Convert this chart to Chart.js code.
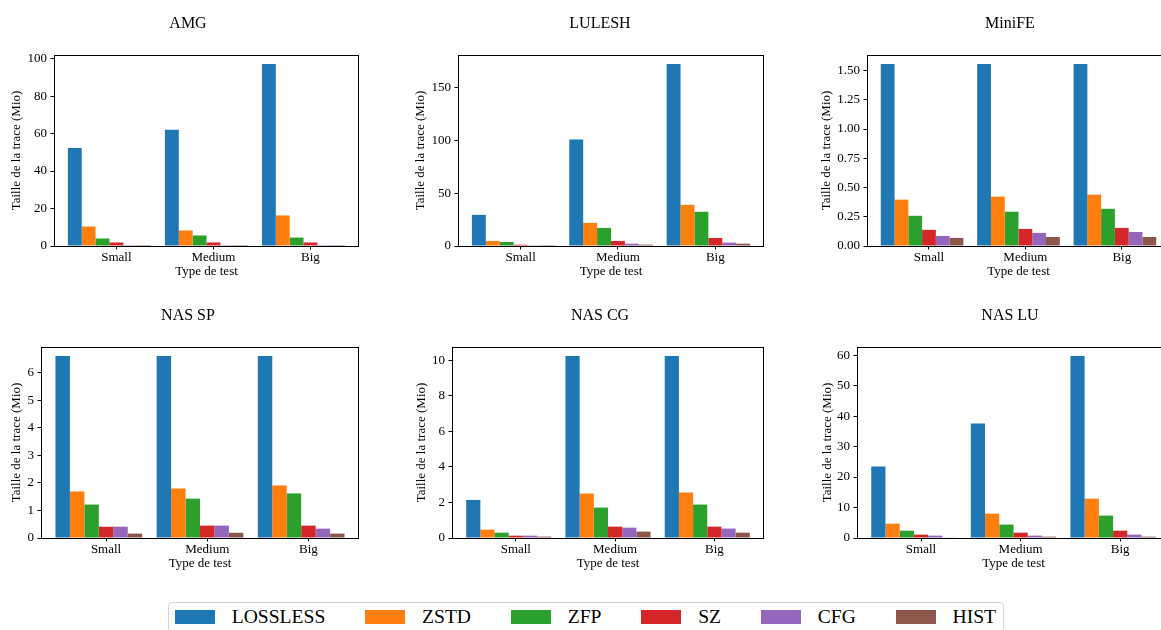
<!DOCTYPE html>
<html>
<head>
<meta charset="utf-8">
<script src="https://cdn.jsdelivr.net/npm/chart.js@4.4.1/dist/chart.umd.min.js"></script>
<style>
  html, body { margin: 0; padding: 0; background: #fff; }
  body { width: 1161px; height: 630px; overflow: hidden; position: relative; font-family: 'Liberation Serif', 'DejaVu Serif', serif; }
  canvas { position: absolute; }
  #legende { position: absolute; left: 168px; top: 602px; height: 28px; padding: 0 7px 8px 6px;
    border: 1px solid #d4d4d4; border-radius: 4px; display: flex; align-items: center;
    font-size: 19.6px; color: #000; background: #fff; white-space: nowrap; }
  .item { display: flex; align-items: center; margin-right: 40px; }
  .item:last-child { margin-right: 0; }
  .patch { width: 40px; height: 14px; margin-right: 16.7px; }
</style>
</head>
<body>
<div id="legende"></div>
<script>
// Catégories et méthodes
const categories = ['Small', 'Medium', 'Big'];
const methodes = ['LOSSLESS', 'ZSTD', 'ZFP', 'SZ', 'CFG', 'HIST'];
const couleurs = ['#1f77b4', '#ff7f0e', '#2ca02c', '#d62728', '#9467bd', '#8c564b'];

// Taille de la trace (Mio) : une ligne par méthode, une valeur par type de test
const amg = [
    [52.3, 62.0, 97.1],
    [10.4, 8.3, 16.3],
    [4.0, 5.6, 4.5],
    [1.9, 1.9, 1.9],
    [0.5, 0.5, 0.5],
    [0.5, 0.5, 0.5]
];
const lulesh = [
    [29.5, 100.9, 172.2],
    [4.8, 21.9, 39.0],
    [3.8, 17.1, 32.4],
    [1.2, 4.8, 7.6],
    [0.2, 2.2, 3.2],
    [0.1, 1.3, 2.2]
];
const minife = [
    [1.555, 1.555, 1.555],
    [0.396, 0.422, 0.439],
    [0.258, 0.293, 0.318],
    [0.138, 0.146, 0.155],
    [0.086, 0.112, 0.120],
    [0.069, 0.077, 0.077]
];
const nasSp = [
    [6.61, 6.61, 6.61],
    [1.69, 1.80, 1.91],
    [1.215, 1.43, 1.62],
    [0.41, 0.45, 0.45],
    [0.41, 0.45, 0.34],
    [0.16, 0.19, 0.16]
];
const nasCg = [
    [2.14, 10.23, 10.23],
    [0.47, 2.50, 2.56],
    [0.30, 1.71, 1.88],
    [0.13, 0.64, 0.64],
    [0.13, 0.58, 0.53],
    [0.08, 0.36, 0.30]
];
const nasLu = [
    [23.5, 37.6, 59.7],
    [4.7, 8.0, 12.9],
    [2.4, 4.4, 7.35],
    [1.1, 1.75, 2.4],
    [0.77, 0.77, 1.1],
    [0.2, 0.45, 0.45]
];

// Graduations de l'axe Y
const ticksAmg = [0, 20, 40, 60, 80, 100];
const ticksLulesh = [0, 50, 100, 150];
const ticksMinife = [0, 0.25, 0.5, 0.75, 1.0, 1.25, 1.5];
const ticksNasSp = [0, 1, 2, 3, 4, 5, 6];
const ticksNasCg = [0, 2, 4, 6, 8, 10];
const ticksNasLu = [0, 10, 20, 30, 40, 50, 60];

const titres = ['AMG', 'LULESH', 'MiniFE', 'NAS SP', 'NAS CG', 'NAS LU'];
const valeurs = [amg, lulesh, minife, nasSp, nasCg, nasLu];
const graduations = [ticksAmg, ticksLulesh, ticksMinife, ticksNasSp, ticksNasCg, ticksNasLu];
const decimales = [0, 0, 2, 0, 0, 0];

// Position des axes (px) : gauche, droite, haut, bas, centre du titre Y, centre du titre
const cadres = [
    { L: 54,  R: 359,  T: 55,  B: 246, cx: 17,  tx: 188 },
    { L: 458, R: 764,  T: 55,  B: 246, cx: 421, tx: 600 },
    { L: 867, R: 1170, T: 55,  B: 246, cx: 827, tx: 1010 },
    { L: 41,  R: 359,  T: 347, B: 538, cx: 17,  tx: 188 },
    { L: 452, R: 764,  T: 347, B: 538, cx: 422, tx: 600 },
    { L: 857, R: 1170, T: 347, B: 538, cx: 828, tx: 1010 }
];

Chart.defaults.font.family = "'Liberation Serif', 'DejaVu Serif', serif";
Chart.defaults.color = '#000';

// Bordure complète autour de la zone de tracé (comme matplotlib)
const pluginCadre = {
    id: 'cadre',
    afterDatasetsDraw(chart) {
        const { ctx, chartArea: a } = chart;
        ctx.save();
        ctx.strokeStyle = '#000';
        ctx.lineWidth = 1;
        ctx.strokeRect(a.left + 0.5, a.top + 0.5, a.right - a.left - 1, a.bottom - a.top);
        ctx.restore();
    }
};

function creerPanneau(i) {
    const c = cadres[i];
    const gauche = Math.round(c.cx - 7.8);
    const haut = c.T - 55;
    // le titre est centré sur le canvas : on élargit à droite
    const largeur = Math.max(2 * (c.tx - gauche), c.R - gauche + 2);
    const marge = gauche + largeur - c.R;
    const hauteur = c.B + 33 - haut;

    const canvas = document.createElement('canvas');
    canvas.width = largeur;
    canvas.height = hauteur;
    canvas.style.left = gauche + 'px';
    canvas.style.top = haut + 'px';
    canvas.style.width = largeur + 'px';
    canvas.style.height = hauteur + 'px';
    document.body.appendChild(canvas);

    const donnees = valeurs[i];
    const maxY = Math.max(...donnees.flat()) * 1.05;
    const ticksY = graduations[i];

    new Chart(canvas.getContext('2d'), {
        type: 'bar',
        data: {
            datasets: methodes.map((m, k) => ({
                label: m,
                data: donnees[k].map((v, j) => ({ x: j, y: v })),
                backgroundColor: couleurs[k],
                borderWidth: 0,
                categoryPercentage: 6 / 7,
                barPercentage: 1
            }))
        },
        options: {
            responsive: false,
            animation: false,
            devicePixelRatio: 1,
            layout: { padding: 0 },
            plugins: {
                legend: { display: false },
                tooltip: { enabled: false },
                title: {
                    display: true,
                    text: titres[i],
                    color: '#000',
                    font: { size: 16, weight: 'normal' },
                    padding: { top: 14.4, bottom: 21.4 }
                }
            },
            scales: {
                x: {
                    type: 'linear',
                    min: -4 / 7,
                    max: 2 + 4 / 7,
                    offset: false,
                    border: { display: false },
                    grid: { offset: false, drawOnChartArea: false, drawTicks: true, tickLength: 3.5, color: '#000' },
                    ticks: {
                        padding: 0,
                        autoSkip: false,
                        maxRotation: 0,
                        font: { size: 13 },
                        color: '#000',
                        callback: (v, idx) => categories[idx]
                    },
                    afterBuildTicks: s => {
                        // graduation centrée sur la 4e barre du groupe
                        s.ticks = categories.map((cat, j) => ({ value: j + 1 / 14 }));
                    },
                    afterFit: s => { s.height = 33; },
                    title: {
                        display: true,
                        text: 'Type de test',
                        font: { size: 13 },
                        color: '#000',
                        padding: { top: 0, bottom: 0 }
                    }
                },
                y: {
                    min: 0,
                    max: maxY,
                    border: { display: false },
                    grid: { drawOnChartArea: false, drawTicks: true, tickLength: 3.5, color: '#000' },
                    ticks: {
                        padding: 3.5,
                        font: { size: 13 },
                        color: '#000',
                        callback: v => Number(v).toFixed(decimales[i])
                    },
                    afterBuildTicks: s => {
                        s.ticks = ticksY.map(v => ({ value: v }));
                    },
                    afterFit: s => { s.width = c.L - gauche; },
                    title: {
                        display: true,
                        text: 'Taille de la trace (Mio)',
                        font: { size: 13 },
                        color: '#000',
                        padding: { top: 0, bottom: 0 }
                    }
                },
                // axe vide à droite, sert seulement d'espace
                vide: {
                    type: 'linear',
                    position: 'right',
                    display: true,
                    border: { display: false },
                    grid: { display: false },
                    ticks: { display: false },
                    afterFit: s => { s.width = marge; }
                }
            }
        },
        plugins: [pluginCadre]
    });
}

titres.forEach((t, i) => creerPanneau(i));

// Légende commune en bas
const legende = document.getElementById('legende');
methodes.forEach((m, k) => {
    const item = document.createElement('div');
    item.className = 'item';
    item.innerHTML = `<span class="patch" style="background:${couleurs[k]}"></span><span>${m}</span>`;
    legende.appendChild(item);
});
</script>
</body>
</html>
